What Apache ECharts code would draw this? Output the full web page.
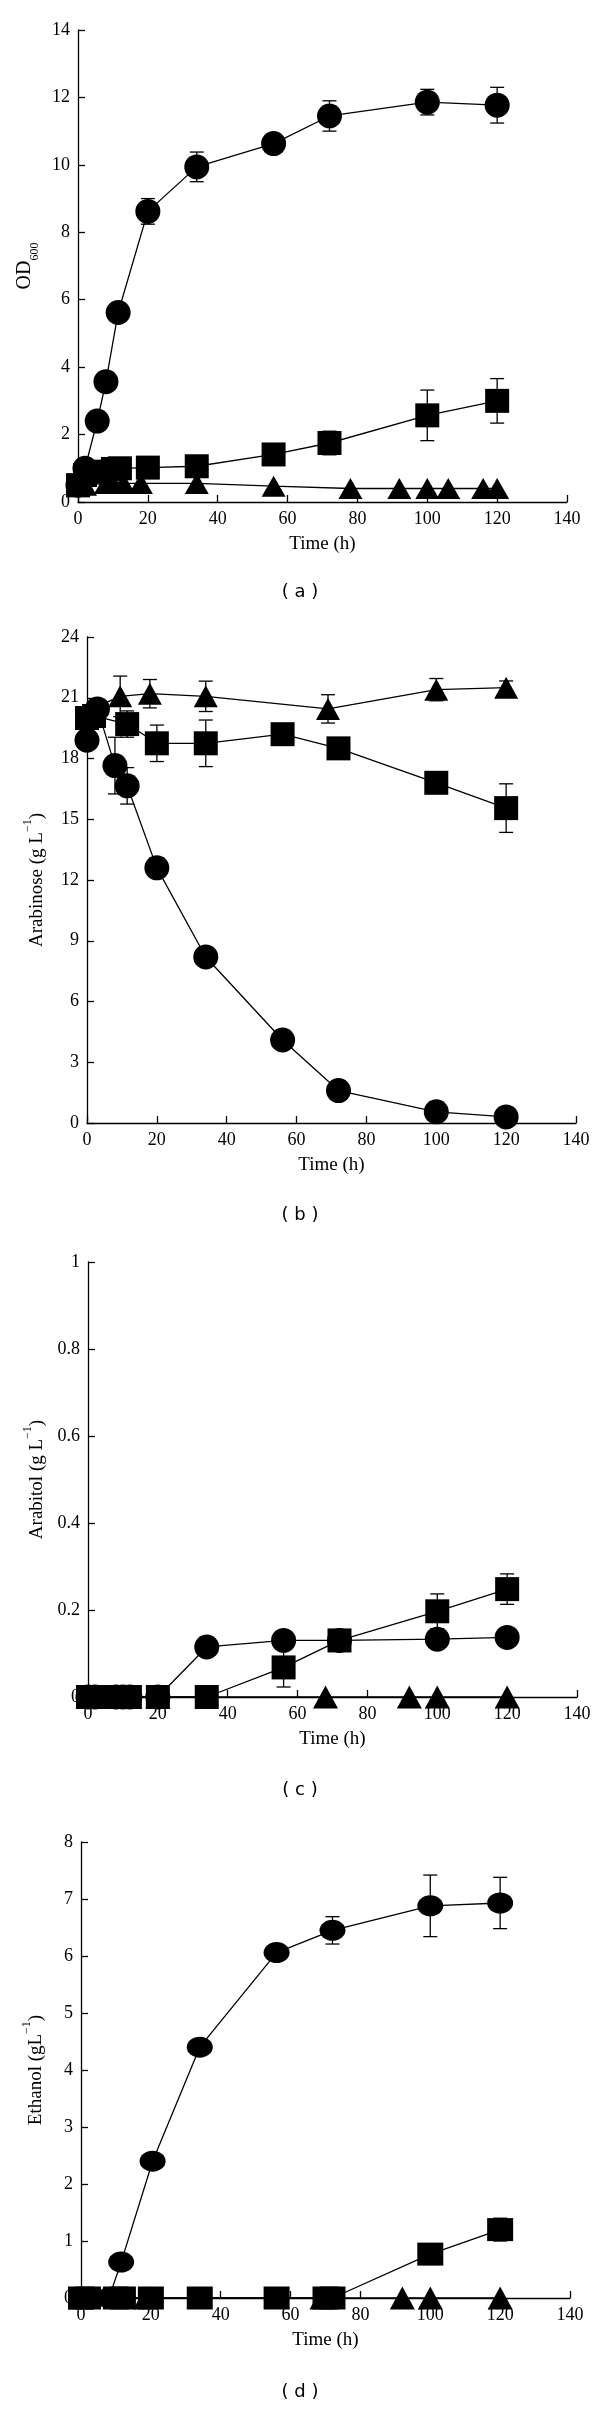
<!DOCTYPE html>
<html>
<head>
<meta charset="utf-8">
<script src="https://cdn.jsdelivr.net/npm/echarts@6/dist/echarts.min.js"></script>
<style>
  html, body { margin: 0; padding: 0; background: #fff; }
  #main { width: 600px; height: 2413px; }
</style>
</head>
<body>
<div id="main"></div>
<script>
// 横轴刻度
const timeTicks = [0, 20, 40, 60, 80, 100, 120, 140];

// (a) OD600
const odCircleT = [0, 2, 5.5, 8, 11.5, 20, 34, 56, 72, 100, 120];
const odCircleV = [0.5, 1.0, 2.4, 3.57, 5.62, 8.62, 9.94, 10.63, 11.45, 11.86, 11.77];
const odCircleE = [null, null, null, null, null, 0.38, 0.44, null, 0.45, 0.38, 0.53];
const odSquareT = [0, 2, 5, 10, 12, 20, 34, 56, 72, 100, 120];
const odSquareV = [0.5, 0.8, 0.9, 0.98, 1.0, 1.02, 1.06, 1.41, 1.75, 2.57, 3.0];
const odSquareE = [null, null, null, null, null, null, null, null, 0.35, 0.75, 0.66];
const odTriT = [0, 2, 8, 10, 13, 18, 34, 56, 78, 92, 100, 106, 116, 120];
const odTriV = [0.45, 0.5, 0.55, 0.55, 0.55, 0.55, 0.55, 0.47, 0.4, 0.4, 0.4, 0.4, 0.4, 0.4];

// (b) Arabinose
const araCircleT = [0, 3, 8, 11.5, 20, 34, 56, 72, 100, 120];
const araCircleV = [18.9, 20.45, 17.65, 16.65, 12.6, 8.2, 4.1, 1.6, 0.55, 0.3];
const araCircleE = [0.3, null, 1.4, 0.9, null, null, null, null, null, null];
const araSquareT = [0, 2, 11.5, 20, 34, 56, 72, 100, 120];
const araSquareV = [20.0, 20.1, 19.7, 18.75, 18.75, 19.2, 18.5, 16.8, 15.55];
const araSquareE = [null, null, 0.65, 0.9, 1.15, 0.4, null, null, 1.2];
const araTriT = [0, 2, 9.5, 18, 34, 69, 100, 120];
const araTriV = [20.0, 20.5, 21.07, 21.2, 21.07, 20.45, 21.4, 21.5];
const araTriE = [null, null, 1.0, 0.7, 0.75, 0.7, 0.55, 0.33];

// (c) Arabitol
const atlCircleT = [0, 2, 8, 10, 12, 20, 34, 56, 72, 100, 120];
const atlCircleV = [0, 0, 0, 0, 0, 0, 0.115, 0.13, 0.13, 0.133, 0.137];
const atlSquareT = [0, 2, 8, 10, 12, 20, 34, 56, 72, 100, 120];
const atlSquareV = [0, 0, 0, 0, 0, 0, 0, 0.068, 0.13, 0.197, 0.248];
const atlSquareE = [null, null, null, null, null, null, null, 0.045, 0.025, 0.04, 0.035];
const atlTriT = [0, 2, 20, 68, 92, 100, 120];
const atlTriV = [0, 0, 0, 0, 0, 0, 0];

// (d) Ethanol
const etCircleT = [0, 2, 8, 11.5, 20.5, 34, 56, 72, 100, 120];
const etCircleV = [0, 0, 0, 0.63, 2.4, 4.4, 6.06, 6.45, 6.88, 6.93];
const etCircleE = [null, null, null, null, null, null, null, 0.24, 0.54, 0.45];
const etSquareT = [0, 2, 10, 12, 20, 34, 56, 70, 72, 100, 120];
const etSquareV = [0, 0, 0, 0, 0, 0, 0, 0, 0, 0.77, 1.2];
const etSquareE = [null, null, null, null, null, null, null, null, null, null, 0.2];
const etTriT = [0, 18.5, 69, 92, 100, 120];
const etTriV = [0, 0, 0, 0, 0, 0];

// 每个子图的布局
const panels = [
  { tag: '( a )', left: 78, top: 30, height: 472, ymax: 14, yint: 2, yname: 'OD{sub|600}', ngap: 31, nsize: 20, tagY: 594,
    circ: [odCircleT, odCircleV, odCircleE], sq: [odSquareT, odSquareV, odSquareE], tri: [odTriT, odTriV, null],
    cs: 25, ss: 24, ts: [24, 21] },
  { tag: '( b )', left: 87, top: 637, height: 486, ymax: 24, yint: 3, yname: 'Arabinose (g L{sup|\u22121})', ngap: 40, nsize: 19, tagY: 1217,
    circ: [araCircleT, araCircleV, araCircleE], sq: [araSquareT, araSquareV, araSquareE], tri: [araTriT, araTriV, araTriE],
    cs: 25, ss: 24, ts: [24, 22] },
  { tag: '( c )', left: 88, top: 1262, height: 435, ymax: 1, yint: 0.2, yname: 'Arabitol (g L{sup|\u22121})', ngap: 41, nsize: 19, tagY: 1792,
    circ: [atlCircleT, atlCircleV, null], sq: [atlSquareT, atlSquareV, atlSquareE], tri: [atlTriT, atlTriV, null],
    cs: 25, ss: 24, ts: [25, 23] },
  { tag: '( d )', left: 81, top: 1842, height: 456, ymax: 8, yint: 1, yname: 'Ethanol (gL{sup|\u22121})', ngap: 35, nsize: 19, tagY: 2394,
    circ: [etCircleT, etCircleV, etCircleE], sq: [etSquareT, etSquareV, etSquareE], tri: [etTriT, etTriV, null],
    cs: [26, 21], ss: [26, 23], ts: [25, 23] }
];

const serif = 'Liberation Serif';
const black = '#000';

function pairs(t, v) {
  return t.map((x, i) => [x, v[i]]);
}
function errPairs(t, v, e) {
  const res = [];
  if (!e) return res;
  for (let i = 0; i < t.length; i++) {
    if (e[i] != null) res.push([t[i], v[i], e[i]]);
  }
  return res;
}

function errorBar(params, api) {
  const x = api.value(0), y = api.value(1), e = api.value(2);
  const hi = api.coord([x, y + e]);
  const lo = api.coord([x, y - e]);
  const w = 7;
  const st = { stroke: black, lineWidth: 1.3 };
  return {
    type: 'group',
    children: [
      { type: 'line', shape: { x1: hi[0], y1: hi[1], x2: lo[0], y2: lo[1] }, style: st },
      { type: 'line', shape: { x1: hi[0] - w, y1: hi[1], x2: hi[0] + w, y2: hi[1] }, style: st },
      { type: 'line', shape: { x1: lo[0] - w, y1: lo[1], x2: lo[0] + w, y2: lo[1] }, style: st }
    ]
  };
}

const grid = [], xAxis = [], yAxis = [], series = [], graphic = [];

panels.forEach((p, i) => {
  grid.push({ left: p.left, width: 489, top: p.top, height: p.height });
  xAxis.push({
    gridIndex: i, type: 'value', min: timeTicks[0], max: timeTicks[timeTicks.length - 1], interval: 20,
    axisLine: { show: true, onZero: false, lineStyle: { color: black, width: 1.3 } },
    axisTick: { show: true, inside: true, length: 7, lineStyle: { color: black, width: 1.3 } },
    axisLabel: { color: black, fontFamily: serif, fontSize: 18, margin: 8 },
    splitLine: { show: false },
    name: 'Time (h)', nameLocation: 'middle', nameGap: 33,
    nameTextStyle: { color: black, fontFamily: serif, fontSize: 19 }
  });
  yAxis.push({
    gridIndex: i, type: 'value', min: 0, max: p.ymax, interval: p.yint,
    axisLine: { show: true, lineStyle: { color: black, width: 1.3 } },
    axisTick: { show: true, inside: true, length: 7, lineStyle: { color: black, width: 1.3 } },
    axisLabel: { color: black, fontFamily: serif, fontSize: 18, margin: 8 },
    splitLine: { show: false },
    name: p.yname, nameLocation: 'middle', nameGap: p.ngap,
    nameTextStyle: {
      color: black, fontFamily: serif, fontSize: p.nsize,
      rich: {
        sub: { fontFamily: serif, fontSize: 12, verticalAlign: 'bottom', padding: [0, 0, -6, 0] },
        sup: { fontFamily: serif, fontSize: 12, verticalAlign: 'top', padding: [-6, 0, 0, 0] }
      }
    }
  });

  const kinds = [
    { d: p.circ, sym: 'circle', size: p.cs },
    { d: p.sq, sym: 'rect', size: p.ss },
    { d: p.tri, sym: 'triangle', size: p.ts }
  ];
  kinds.forEach(k => {
    series.push({
      type: 'line', xAxisIndex: i, yAxisIndex: i,
      data: pairs(k.d[0], k.d[1]),
      symbol: k.sym, symbolSize: k.size, showSymbol: true,
      itemStyle: { color: black },
      lineStyle: { color: black, width: 1.3 },
      z: 3, animation: false
    });
    const eb = errPairs(k.d[0], k.d[1], k.d[2]);
    if (eb.length) {
      series.push({
        type: 'custom', xAxisIndex: i, yAxisIndex: i,
        renderItem: errorBar, data: eb, z: 2, animation: false
      });
    }
  });

  graphic.push({
    type: 'text', left: 'center', top: p.tagY - 11,
    style: { text: p.tag, fill: black, font: '18px "DejaVu Sans"' }
  });
});

const chart = echarts.init(document.getElementById('main'), null, { renderer: 'canvas' });
chart.setOption({
  backgroundColor: '#fff',
  animation: false,
  grid: grid,
  xAxis: xAxis,
  yAxis: yAxis,
  series: series,
  graphic: graphic
});
</script>
</body>
</html>
